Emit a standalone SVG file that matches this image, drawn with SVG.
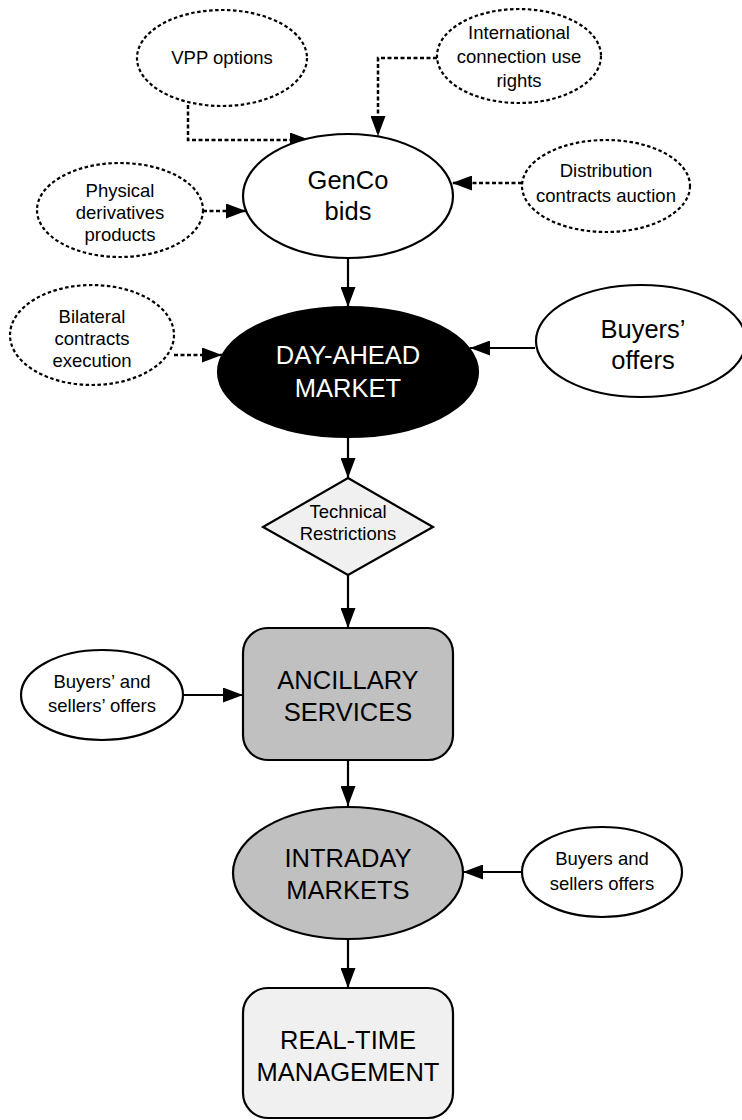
<svg xmlns="http://www.w3.org/2000/svg" width="742" height="1120" viewBox="0 0 742 1120">
<style>
text{font-family:"Liberation Sans",Arial,sans-serif;text-anchor:middle;fill:#000}
.sm{font-size:18.5px}
.lg{font-size:25.5px}
.dn{fill:#fff;stroke:#000;stroke-width:2.2;stroke-dasharray:3.5 2.5}
.sn{fill:#fff;stroke:#000;stroke-width:2.2}
.c{fill:none;stroke:#000;stroke-width:2.2}
.cd{fill:none;stroke:#000;stroke-width:2.5;stroke-dasharray:4 2.5}
</style>
<defs>
<marker id="ah" viewBox="0 0 20 15" refX="20" refY="7.5" markerWidth="20" markerHeight="15" markerUnits="userSpaceOnUse" orient="auto"><path d="M0,0 L20,7.5 L0,15 z" fill="#000"/></marker>
</defs>
<rect width="742" height="1120" fill="#fff"/>
<g id="connectors">
<path class="cd" d="M188,105 V140 H310" marker-end="url(#ah)"/>
<path class="cd" d="M437,58 H378 V136" marker-end="url(#ah)"/>
<path class="cd" d="M522,183 H452" marker-end="url(#ah)"/>
<path class="cd" d="M203,211 H246" marker-end="url(#ah)"/>
<path class="c" d="M348,258 V307" marker-end="url(#ah)"/>
<path class="cd" d="M174,355 H222" marker-end="url(#ah)"/>
<path class="c" d="M535,348 H470" marker-end="url(#ah)"/>
<path class="c" d="M348,436 V478" marker-end="url(#ah)"/>
<path class="c" d="M348,575 V628" marker-end="url(#ah)"/>
<path class="c" d="M183,695 H243" marker-end="url(#ah)"/>
<path class="c" d="M348,760 V806" marker-end="url(#ah)"/>
<path class="c" d="M522,872 H463" marker-end="url(#ah)"/>
<path class="c" d="M348,939 V988" marker-end="url(#ah)"/>
</g>
<g id="vpp"><ellipse class="dn" cx="222" cy="58" rx="85" ry="48"/><text class="sm" x="222" y="64">VPP options</text></g>
<g id="intl"><ellipse class="dn" cx="519" cy="56" rx="82" ry="47"/><text class="sm" x="519" y="39">International</text><text class="sm" x="519" y="63">connection use</text><text class="sm" x="519" y="87">rights</text></g>
<g id="genco"><ellipse class="sn" cx="348" cy="196" rx="105" ry="62"/><text class="lg" x="348" y="189">GenCo</text><text class="lg" x="348" y="220">bids</text></g>
<g id="dist"><ellipse class="dn" cx="606" cy="186" rx="84" ry="46"/><text class="sm" x="606" y="177">Distribution</text><text class="sm" x="606" y="202">contracts auction</text></g>
<g id="phys"><ellipse class="dn" cx="120" cy="210" rx="83" ry="47"/><text class="sm" x="120" y="197">Physical</text><text class="sm" x="120" y="219">derivatives</text><text class="sm" x="120" y="241">products</text></g>
<g id="dayahead"><ellipse cx="348" cy="372" rx="130" ry="65" fill="#000" stroke="#000" stroke-width="2.2"/><text class="lg" x="348" y="364" style="fill:#fff">DAY-AHEAD</text><text class="lg" x="348" y="397" style="fill:#fff">MARKET</text></g>
<g id="bilateral"><ellipse class="dn" cx="92" cy="335" rx="82" ry="50"/><text class="sm" x="92" y="323">Bilateral</text><text class="sm" x="92" y="345">contracts</text><text class="sm" x="92" y="367">execution</text></g>
<g id="buyers"><ellipse class="sn" cx="641" cy="341" rx="105" ry="56"/><text class="lg" x="643" y="338">Buyers’</text><text class="lg" x="643" y="369">offers</text></g>
<g id="tech"><path d="M348,478 L433,527 L348,575 L263,527 Z" fill="#f0f0f0" stroke="#000" stroke-width="2.2"/><text class="sm" x="348" y="518">Technical</text><text class="sm" x="348" y="540">Restrictions</text></g>
<g id="ancillary"><rect x="243" y="628" width="210" height="132" rx="25" fill="#c0c0c0" stroke="#000" stroke-width="2.2"/><text class="lg" x="348" y="689">ANCILLARY</text><text class="lg" x="348" y="721">SERVICES</text></g>
<g id="bso1"><ellipse class="sn" cx="102" cy="695" rx="81" ry="45"/><text class="sm" x="102" y="688">Buyers’ and</text><text class="sm" x="102" y="712">sellers’ offers</text></g>
<g id="intraday"><ellipse cx="348" cy="873" rx="115" ry="66" fill="#c0c0c0" stroke="#000" stroke-width="2.2"/><text class="lg" x="348" y="867">INTRADAY</text><text class="lg" x="348" y="899">MARKETS</text></g>
<g id="bso2"><ellipse class="sn" cx="602" cy="872" rx="80" ry="45"/><text class="sm" x="602" y="865">Buyers and</text><text class="sm" x="602" y="890">sellers offers</text></g>
<g id="realtime"><rect x="243" y="988" width="210" height="130" rx="25" fill="#f0f0f0" stroke="#000" stroke-width="2.2"/><text class="lg" x="348" y="1049">REAL-TIME</text><text class="lg" x="348" y="1081">MANAGEMENT</text></g>
</svg>
